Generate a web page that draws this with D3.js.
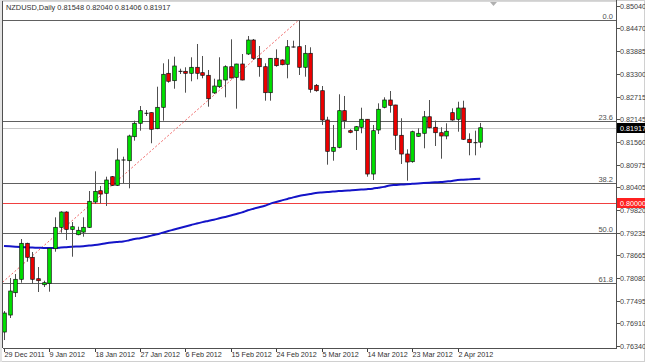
<!DOCTYPE html>
<html><head><meta charset="utf-8">
<script src="https://cdn.jsdelivr.net/npm/d3@7/dist/d3.min.js"></script>
<style>
html,body{margin:0;padding:0;background:#fff;}
svg{display:block;font-family:"Liberation Sans",Arial,sans-serif;}
</style></head><body>
<svg id="c" width="645" height="362"></svg>
<script>
const symbolTitle = "NZDUSD,Daily";
const dateLabels = ["29 Dec 2011","9 Jan 2012","18 Jan 2012","27 Jan 2012","6 Feb 2012","15 Feb 2012","24 Feb 2012","5 Mar 2012","14 Mar 2012","23 Mar 2012","2 Apr 2012"];
const dateLabelBars = [0,8,16,24,32,40,48,56,64,72,80];
const yTicks = [0.85040,0.84470,0.83885,0.83300,0.82715,0.82145,0.81560,0.80975,0.80405,0.79820,0.79235,0.78665,0.78080,0.77495,0.76910,0.76340];

const open = [0.76690,0.77125,0.77696,0.78039,0.78960,0.78602,0.78054,0.77900,0.77937,0.78822,
0.79369,0.79761,0.79316,0.79180,0.79247,0.79369,0.80017,0.80306,0.80240,0.80664,
0.80444,0.81092,0.81074,0.81688,0.82031,0.82287,0.82303,0.81893,0.82440,0.83310,
0.83121,0.83361,0.83361,0.83310,0.83464,0.83326,0.83259,0.82810,0.82967,0.83139,
0.83479,0.83208,0.83548,0.83804,0.84162,0.83694,0.83479,0.82814,0.83694,0.83651,
0.83541,0.83983,0.83991,0.83464,0.83822,0.83003,0.82865,0.82115,0.81314,0.81416,
0.82354,0.81842,0.81842,0.81929,0.82134,0.80733,0.81860,0.82440,0.82627,0.82499,
0.81724,0.81245,0.81048,0.81698,0.81775,0.82198,0.81929,0.81790,0.81706,0.82303,
0.82134,0.82422,0.81622,0.81535,0.81548];
const high = [0.77227,0.78072,0.78174,0.79070,0.78975,0.78737,0.78353,0.78003,0.78840,0.79625,
0.79779,0.79779,0.79505,0.79385,0.79625,0.80298,0.80802,0.80426,0.80664,0.80682,
0.81391,0.81176,0.81739,0.82098,0.82473,0.82371,0.82310,0.82967,0.83566,0.83669,
0.83735,0.83428,0.83464,0.83720,0.84060,0.83753,0.83395,0.83172,0.83720,0.83515,
0.84180,0.83555,0.83804,0.84265,0.84188,0.84009,0.83566,0.83700,0.83924,0.83669,
0.84162,0.84145,0.84674,0.84034,0.83976,0.83036,0.82985,0.82198,0.81988,0.82773,
0.82730,0.81878,0.81962,0.82430,0.82140,0.81988,0.82542,0.82696,0.82857,0.82505,
0.82160,0.81365,0.81842,0.81903,0.82346,0.82627,0.82098,0.81929,0.82031,0.82414,
0.82583,0.82609,0.81775,0.81842,0.82040];
const low = [0.76485,0.77048,0.77586,0.77952,0.78489,0.77918,0.77714,0.77842,0.77722,0.78745,
0.79231,0.79044,0.78617,0.79165,0.79129,0.79351,0.79966,0.79984,0.79914,0.80426,
0.80426,0.80495,0.80367,0.81586,0.81841,0.82218,0.81520,0.81880,0.82098,0.83070,
0.82916,0.83292,0.82814,0.83106,0.83157,0.83182,0.82456,0.82781,0.82934,0.82696,
0.83180,0.82405,0.83130,0.83779,0.83651,0.83223,0.82609,0.82609,0.83479,0.83515,
0.83182,0.83970,0.83267,0.83223,0.82814,0.82839,0.81988,0.80972,0.81074,0.81391,
0.81894,0.81776,0.81348,0.81776,0.80664,0.80580,0.81757,0.82414,0.82303,0.81348,
0.80990,0.80562,0.81022,0.81688,0.81391,0.81903,0.81450,0.81125,0.81622,0.82098,
0.81816,0.81604,0.81212,0.81212,0.81406];
const close = [0.77176,0.77739,0.78039,0.78960,0.78602,0.78039,0.78003,0.77952,0.78832,0.79369,
0.79761,0.79316,0.79385,0.79293,0.79369,0.80035,0.80290,0.80222,0.80580,0.80444,
0.81092,0.81092,0.81706,0.82031,0.82354,0.82287,0.81878,0.82440,0.83285,0.83106,
0.83497,0.83361,0.83310,0.83464,0.83310,0.83259,0.82660,0.82985,0.83139,0.83479,
0.83190,0.83548,0.83139,0.84162,0.83694,0.83479,0.82814,0.83694,0.83505,0.83530,
0.83991,0.83983,0.83464,0.83822,0.82901,0.82865,0.82115,0.81314,0.81416,0.82354,
0.82098,0.81801,0.81944,0.82134,0.80733,0.81842,0.82390,0.82627,0.82491,0.81724,
0.81245,0.81040,0.81816,0.81775,0.82198,0.81918,0.81790,0.81706,0.81827,0.82115,
0.82422,0.81622,0.81535,0.81535,0.81917];
const movingAverage = [0.78891,0.78883,0.78873,0.78865,0.78858,0.78850,0.78848,0.78842,0.78840,0.78842,
0.78850,0.78860,0.78870,0.78878,0.78886,0.78901,0.78916,0.78937,0.78963,0.78983,
0.78996,0.79006,0.79034,0.79068,0.79091,0.79119,0.79157,0.79188,0.79234,0.79275,
0.79313,0.79352,0.79390,0.79428,0.79467,0.79502,0.79533,0.79564,0.79600,0.79635,
0.79671,0.79710,0.79751,0.79804,0.79845,0.79884,0.79922,0.79976,0.80019,0.80058,
0.80096,0.80135,0.80168,0.80196,0.80222,0.80247,0.80260,0.80270,0.80283,0.80296,
0.80304,0.80314,0.80324,0.80335,0.80345,0.80358,0.80381,0.80404,0.80439,0.80452,
0.80462,0.80473,0.80483,0.80493,0.80501,0.80511,0.80522,0.80529,0.80542,0.80555,
0.80578,0.80586,0.80596,0.80606,0.80614];

const fibLabels = ["0.0","23.6","38.2","50.0","61.8"];
const fibLevels = [0.84674,0.82098,0.80505,0.79216,0.77937];
const fibAnchorBars = [-33,52];
const fibAnchorPrices = [0.73758,0.84674];
const bidPrice = 0.81917;
const roundLevel = 0.80000;

const svg = d3.select("#c");
const W = 645, H = 362;
const plotL = 3, plotR = 616, plotT = 1, plotB = 348;

const x = d3.scaleLinear().domain([0, 84]).range([4, 4 + 84*5.67]);
const y = d3.scaleLinear().domain([0.76340, 0.85040]).range([345.7, 5.7]);

// outer frame
svg.append("rect").attr("x",0.5).attr("y",0.5).attr("width",W-1).attr("height",H-1).attr("fill","#fff").attr("stroke","#d0d0d0");
svg.append("rect").attr("x",0).attr("y",0).attr("width",2).attr("height",H).attr("fill","#e4e4e4");

svg.append("defs").append("clipPath").attr("id","plotclip").append("rect")
  .attr("x",plotL).attr("y",plotT).attr("width",plotR-plotL).attr("height",plotB-plotT);

const g = svg.append("g").attr("clip-path","url(#plotclip)");

// bid line
g.append("line").attr("x1",plotL).attr("x2",plotR).attr("y1",Math.round(y(bidPrice))+0.5).attr("y2",Math.round(y(bidPrice))+0.5)
  .attr("stroke","#c8c8c8").attr("stroke-width",1);
// round level line
g.append("line").attr("x1",plotL).attr("x2",plotR).attr("y1",Math.round(y(roundLevel))+0.5).attr("y2",Math.round(y(roundLevel))+0.5)
  .attr("stroke","#f04040").attr("stroke-width",1);

// fib levels
fibLevels.forEach((v,i)=>{
  const yy = Math.round(y(v))+0.5;
  g.append("line").attr("x1",plotL).attr("x2",plotR).attr("y1",yy).attr("y2",yy)
    .attr("stroke","#606060").attr("stroke-width",1.2);
  g.append("text").attr("x",613).attr("y",yy-2).attr("text-anchor","end")
    .attr("font-size","7.5px").attr("fill","#505050").text(fibLabels[i]);
});
// fib trend line
g.append("line")
  .attr("x1",x(fibAnchorBars[0])).attr("y1",y(fibAnchorPrices[0]))
  .attr("x2",x(fibAnchorBars[1])).attr("y2",y(fibAnchorPrices[1]))
  .attr("stroke","#f06464").attr("stroke-width",1).attr("stroke-dasharray","2,2");

// moving average
const maLine = d3.line().x((d,i)=>x(i)).y(d=>y(d)).curve(d3.curveMonotoneX);
g.append("path").datum(movingAverage).attr("d",maLine).attr("fill","none")
  .attr("stroke","#1414c8").attr("stroke-width",2);

// candles
const bars = d3.range(open.length).map(i=>({i,o:open[i],h:high[i],l:low[i],c:close[i]}));
const cg = g.append("g");
bars.forEach(d=>{
  const cx = Math.round(x(d.i))+0.5;
  cg.append("line").attr("x1",cx).attr("x2",cx).attr("y1",y(d.h)).attr("y2",y(d.l))
    .attr("stroke","#505050").attr("stroke-width",1);
  const top = y(Math.max(d.o,d.c)), bot = y(Math.min(d.o,d.c));
  if (bot - top < 0.8) {
    cg.append("line").attr("x1",cx-2).attr("x2",cx+2).attr("y1",top).attr("y2",top)
      .attr("stroke","#111").attr("stroke-width",1);
  } else {
    cg.append("rect").attr("x",cx-1.8).attr("y",top).attr("width",3.6).attr("height",bot-top)
      .attr("fill", d.c >= d.o ? "#00e000" : "#ee0000")
      .attr("stroke","#111").attr("stroke-width",0.7);
  }
});

// plot frame
svg.append("line").attr("x1",plotL-0.5).attr("x2",plotL-0.5).attr("y1",plotT).attr("y2",plotB).attr("stroke","#505050");
svg.append("line").attr("x1",plotL).attr("x2",plotR).attr("y1",plotB+0.5).attr("y2",plotB+0.5).attr("stroke","#505050");
svg.append("line").attr("x1",plotR+0.5).attr("x2",plotR+0.5).attr("y1",0).attr("y2",plotB+1).attr("stroke","#505050");
svg.append("line").attr("x1",plotL).attr("x2",plotR).attr("y1",plotT+0.5).attr("y2",plotT+0.5).attr("stroke","#d8d8d8");

// shift marker
svg.append("path").attr("d","M490,2 L497,2 L493.5,6 Z").attr("fill","#b0b0b0");

// right axis
const ra = svg.append("g");
yTicks.forEach(v=>{
  const yy = Math.round(y(v))+0.5;
  ra.append("line").attr("x1",plotR+1).attr("x2",plotR+4).attr("y1",yy).attr("y2",yy).attr("stroke","#505050");
  ra.append("text").attr("x",620).attr("y",yy+2.6).attr("font-size","7.2px").attr("fill","#404040").text(v.toFixed(5));
});
// price labels
function priceBox(v, fill){
  const yy = Math.round(y(v));
  ra.append("rect").attr("x",617).attr("y",yy-5).attr("width",28).attr("height",10).attr("fill",fill);
  ra.append("text").attr("x",620).attr("y",yy+2.6).attr("font-size","7.2px").attr("fill","#fff").text(v.toFixed(5));
}
priceBox(roundLevel, "#ff2020");
priceBox(bidPrice, "#000");

// bottom axis
const ba = svg.append("g");
dateLabelBars.forEach((b,i)=>{
  const xx = Math.round(x(b))+0.5;
  ba.append("line").attr("x1",xx).attr("x2",xx).attr("y1",plotB+1).attr("y2",plotB+4).attr("stroke","#404040");
  ba.append("text").attr("x",xx).attr("y",357).attr("font-size","7.2px").attr("fill","#303030").text(dateLabels[i]);
});

// title
svg.append("text").attr("x",6).attr("y",10).attr("font-size","7.4px").attr("fill","#303030")
  .text(symbolTitle + "  " + [open[84],high[84],low[84],close[84]].map(v=>v.toFixed(5)).join(" "));
</script>
</body></html>
